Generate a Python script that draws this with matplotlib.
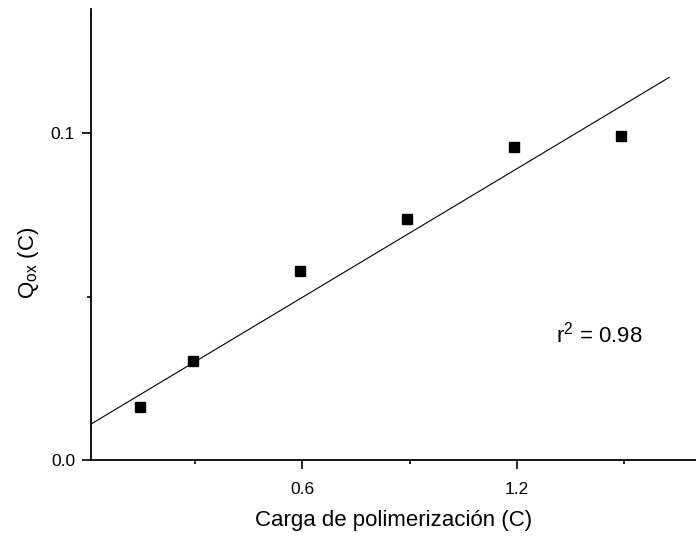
import matplotlib
matplotlib.use("Agg")
import numpy as np
import matplotlib.pyplot as plt
from matplotlib.ticker import FixedLocator

plt.rcParams["font.family"] = ["Liberation Sans", "DejaVu Sans"]
plt.rcParams["mathtext.fontset"] = "custom"
plt.rcParams["mathtext.rm"] = "Liberation Sans"
plt.rcParams["mathtext.it"] = "Liberation Sans"

# data
carga = [0.147, 0.296, 0.594, 0.892, 1.193, 1.491]
q_ox = [0.0163, 0.0303, 0.0579, 0.0737, 0.0958, 0.0992]

# linear fit as drawn
fit_slope = 0.0657
fit_intercept = 0.0103
fit_x = [0.0106, 1.625]

fig = plt.figure(figsize=(6.96, 5.36), dpi=100)
ax = fig.add_axes([91 / 696, 76 / 536, 605 / 696, 451 / 536])

xf = np.array(fit_x)
ax.plot(xf, fit_intercept + fit_slope * xf, color="black", lw=0.8)
ax.plot(carga, q_ox, "s", color="black", markersize=7.5, clip_on=False)

ax.set_xlim(0.0106, 1.70)
ax.set_ylim(0.0, 0.138)

ax.spines["top"].set_visible(False)
ax.spines["right"].set_visible(False)
ax.spines["left"].set_linewidth(1.3)
ax.spines["bottom"].set_linewidth(1.3)

ax.xaxis.set_major_locator(FixedLocator([0.6, 1.2]))
ax.xaxis.set_minor_locator(FixedLocator([0.3, 0.9, 1.5]))
ax.yaxis.set_major_locator(FixedLocator([0.0, 0.1]))
ax.yaxis.set_minor_locator(FixedLocator([0.05]))
ax.set_xticklabels(["0.6", "1.2"])
ax.set_yticklabels(["0.0", "0.1"])

ax.tick_params(axis="both", which="major", direction="out", length=6.5, width=1.2,
               labelsize=12.5)
ax.tick_params(axis="x", which="major", pad=9.5)
ax.tick_params(axis="y", which="major", pad=5)
ax.tick_params(axis="both", which="minor", direction="out", length=3, width=1.2)

ax.set_xlabel("Carga de polimerización (C)", fontsize=16, labelpad=9)
ax.set_ylabel("Q$_{\\mathrm{ox}}$ (C)", fontsize=16)
ax.yaxis.set_label_coords(-0.083, 0.437)

ax.text(1.43, 0.0361, "r$^{2}$ = 0.98", fontsize=16, ha="center", va="baseline")

fig.savefig("out.png", dpi=100)
